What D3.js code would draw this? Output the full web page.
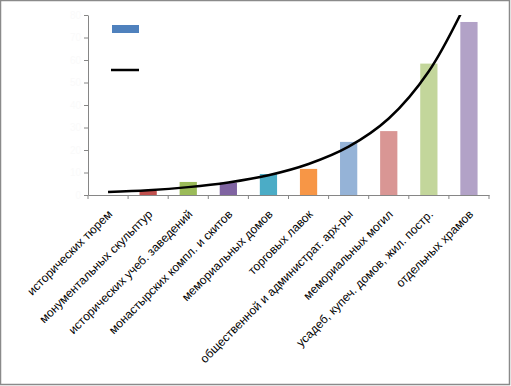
<!DOCTYPE html>
<html>
<head>
<meta charset="utf-8">
<script src="https://cdn.jsdelivr.net/npm/d3@7"></script>
<style>
  body { margin: 0; background: #fff; }
  svg { display: block; font-family: "Liberation Sans", Arial, sans-serif; }
</style>
</head>
<body>
<svg id="chart" width="511" height="386"></svg>
<script>
var categories = [
    "исторических тюрем",
    "монументальных скульптур",
    "исторических учеб. заведений",
    "монастырских компл. и скитов",
    "мемориальных домов",
    "торговых лавок",
    "общественной и администрат. арх-ры",
    "мемориальных могил",
    "усадеб, купеч. домов, жил. постр.",
    "отдельных храмов"
];
var values = [0, 1.8, 5.8, 5.5, 9.3, 11.6, 23.6, 28.4, 58.4, 76.9];
// exponential trendline at each category
var trendValues = [1.3, 2.1, 3.5, 5.6, 8.8, 13.8, 21.5, 34, 55, 88];
var yTicks = [0, 10, 20, 30, 40, 50, 60, 70, 80];
var colors = ["#4F81BD", "#C0504D", "#9BBB59", "#8064A2", "#4BACC6",
              "#F79646", "#95B3D7", "#D99694", "#C3D69B", "#B2A2C7"];

function drawChart() {
    var margin = {top: 15, left: 88},
        width = 401,
        height = 180;

    var svg = d3.select("#chart");

    // outer frame
    svg.append("rect")
        .attr("x", 0.5).attr("y", 0.5)
        .attr("width", 509).attr("height", 384)
        .attr("fill", "none")
        .attr("stroke", "#8a8a8a")
        .attr("stroke-width", 1.5);

    var x = d3.scaleBand()
        .domain(categories)
        .range([0, width]);

    var y = d3.scaleLinear()
        .domain([0, 80])
        .range([height, 0]);

    var chart = svg.append("g")
        .attr("transform", "translate(" + margin.left + "," + margin.top + ")");

    chart.append("defs").append("clipPath")
        .attr("id", "plot")
        .append("rect")
        .attr("width", width).attr("height", height);

    // bars
    var bw = x.bandwidth() * 0.43;
    chart.selectAll(".bar")
            .data(values)
        .enter().append("rect")
            .attr("class", "bar")
            .attr("x", function(d, i) { return x(categories[i]) + (x.bandwidth() - bw) / 2; })
            .attr("width", bw)
            .attr("y", function(d) { return y(d); })
            .attr("height", function(d) { return height - y(d); })
            .attr("fill", function(d, i) { return colors[i]; });

    // y axis (labels are near-white in the original)
    var yAxis = chart.append("g")
        .attr("class", "y axis")
        .call(d3.axisLeft(y).tickValues(yTicks).tickSize(4).tickSizeOuter(0));
    yAxis.select(".domain").attr("stroke", "#868686");
    yAxis.selectAll(".tick line").attr("stroke", "#868686");
    yAxis.selectAll(".tick text").attr("fill", "#fafafa").style("font-size", "10px");

    // x axis
    var xAxis = chart.append("g")
        .attr("class", "x axis")
        .attr("transform", "translate(0," + height + ")")
        .call(d3.axisBottom(x).tickSize(0).tickSizeOuter(0));
    xAxis.select(".domain").attr("stroke", "#868686");

    // category boundary ticks
    xAxis.selectAll(".sep")
            .data(d3.range(categories.length + 1))
        .enter().append("line")
            .attr("x1", function(i) { return i * x.step(); })
            .attr("x2", function(i) { return i * x.step(); })
            .attr("y1", 0).attr("y2", 4)
            .attr("stroke", "#868686");

    xAxis.selectAll(".tick text")
        .attr("fill", "#000")
        .style("font-size", "12px")
        .style("text-anchor", "end")
        .attr("x", 0)
        .attr("y", 0)
        .attr("dy", 0)
        .attr("transform", "translate(5,20) rotate(-45)");

    // trendline
    var line = d3.line()
        .x(function(d, i) { return x(categories[i]) + x.bandwidth() / 2; })
        .y(function(d) { return y(d); })
        .curve(d3.curveCatmullRom);

    chart.append("path")
        .datum(trendValues)
        .attr("clip-path", "url(#plot)")
        .attr("d", line)
        .attr("fill", "none")
        .attr("stroke", "#000")
        .attr("stroke-width", 2.5);

    // legend
    var legend = svg.append("g");
    legend.append("rect")
        .attr("x", 112).attr("y", 25)
        .attr("width", 27).attr("height", 8)
        .attr("fill", colors[0]);
    legend.append("line")
        .attr("x1", 111).attr("x2", 139)
        .attr("y1", 70).attr("y2", 70)
        .attr("stroke", "#000")
        .attr("stroke-width", 2.5);
}

drawChart();
</script>
</body>
</html>
